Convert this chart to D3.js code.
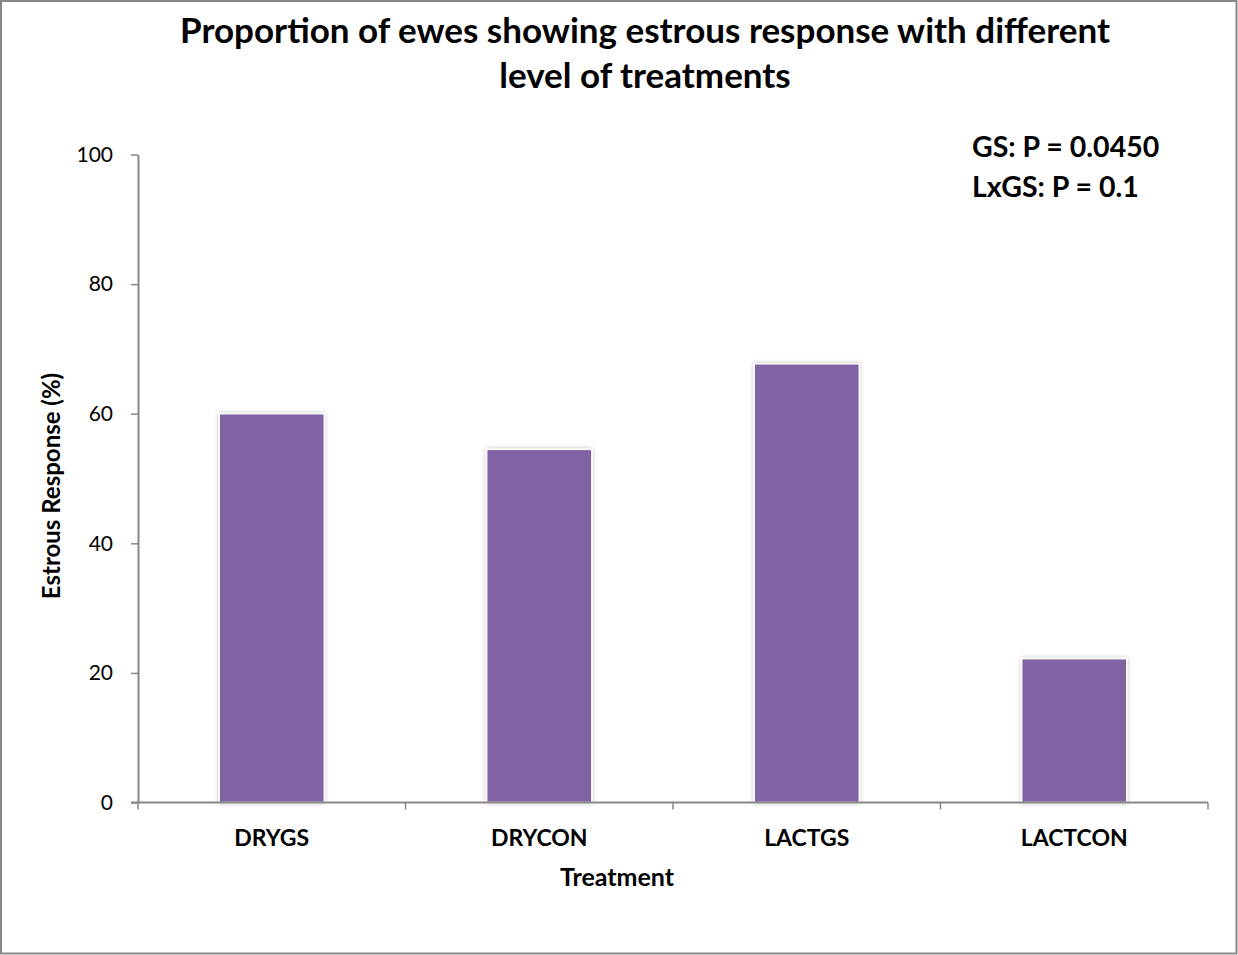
<!DOCTYPE html>
<html>
<head>
<meta charset="utf-8">
<script src="https://cdn.jsdelivr.net/npm/d3@7"></script>
<style>
  html, body { margin: 0; padding: 0; background: #fff; }
  svg { display: block; }
  text { font-family: Lato, "Open Sans", "DejaVu Sans", sans-serif; fill: #000; }
</style>
</head>
<body>
<svg id="chart" width="1238" height="955"></svg>
<script>
// Estrous response (%) by treatment group
const categories = ["DRYGS", "DRYCON", "LACTGS", "LACTCON"];
const responsePct = [60, 54.5, 67.7, 22.2];
const yTicks = [0, 20, 40, 60, 80, 100];
const titleLines = ["Proportion of ewes showing estrous response with different", "level of treatments"];
const statNotes = ["GS: P = 0.0450", "LxGS: P = 0.1"];

const svg = d3.select("#chart");
const W = 1238, H = 955;
const plotLeft = 138, plotRight = 1208;
const plotTop = 154.5, plotBottom = 802.5;
const axisGrey = "#878787";

// outer frame
svg.append("rect")
  .attr("x", 1).attr("y", 1)
  .attr("width", W - 2.5).attr("height", H - 2.5)
  .attr("fill", "#fff").attr("stroke", axisGrey).attr("stroke-width", 2);

// soft shadow around bars
const defs = svg.append("defs");
const f = defs.append("filter").attr("id", "glow")
  .attr("x", "-10%").attr("y", "-10%").attr("width", "120%").attr("height", "120%");
f.append("feDropShadow").attr("dx", 0).attr("dy", 0).attr("stdDeviation", 2.2)
  .attr("flood-color", "#000").attr("flood-opacity", 0.28);

const x = d3.scaleBand().domain(categories).range([plotLeft, plotRight])
  .paddingInner(0.607).paddingOuter(0.3035);
const y = d3.scaleLinear().domain([0, 100]).range([plotBottom, plotTop]);

// bars
svg.append("g").selectAll("rect").data(categories).join("rect")
  .attr("x", d => x(d))
  .attr("y", (d, i) => y(responsePct[i]))
  .attr("width", x.bandwidth())
  .attr("height", (d, i) => plotBottom - y(responsePct[i]))
  .attr("fill", "#8064a2")
  .attr("stroke", "#fff").attr("stroke-width", 1.5)
  .attr("filter", "url(#glow)");

// y axis
const yAxis = svg.append("g").attr("transform", `translate(${plotLeft},0)`)
  .call(d3.axisLeft(y).tickValues(yTicks).tickSize(7).tickPadding(18).tickSizeOuter(0));
yAxis.select(".domain").attr("stroke", axisGrey).attr("stroke-width", 2);
yAxis.selectAll(".tick line").attr("stroke", axisGrey).attr("stroke-width", 1.5);
yAxis.selectAll(".tick text").style("font-size", "21px").attr("fill", "#000")
  .style("font-family", "Lato, 'Open Sans', sans-serif");

// x axis with boundary ticks between groups
const xAxisG = svg.append("g").attr("transform", `translate(0,${plotBottom})`);
xAxisG.append("line").attr("x1", plotLeft - 7).attr("x2", plotRight)
  .attr("stroke", axisGrey).attr("stroke-width", 2);
const step = x.step();
const bounds = d3.range(categories.length + 1).map(i => plotLeft + i * step);
xAxisG.selectAll("line.b").data(bounds).join("line").attr("class", "b")
  .attr("x1", d => d).attr("x2", d => d).attr("y1", 0).attr("y2", 7)
  .attr("stroke", axisGrey).attr("stroke-width", 1.5);
xAxisG.selectAll("text").data(categories).join("text")
  .attr("x", d => x(d) + x.bandwidth() / 2).attr("y", 43)
  .attr("text-anchor", "middle")
  .style("font-size", "23px").style("font-weight", "bold")
  .text(d => d);

// axis titles
svg.append("text").attr("x", 617).attr("y", 886)
  .attr("text-anchor", "middle").style("font-size", "25px").style("font-weight", "bold")
  .text("Treatment");
svg.append("text").attr("transform", `translate(60,486) rotate(-90)`)
  .attr("text-anchor", "middle").style("font-size", "24px").style("font-weight", "bold")
  .text("Estrous Response (%)");

// title
svg.append("g").selectAll("text").data(titleLines).join("text")
  .attr("x", 645).attr("y", (d, i) => 43 + i * 45)
  .attr("text-anchor", "middle").style("font-size", "35px").style("font-weight", "bold")
  .text(d => d);

// significance notes
svg.append("g").selectAll("text").data(statNotes).join("text")
  .attr("x", 972).attr("y", (d, i) => 157 + i * 40)
  .style("font-size", "28.5px").style("font-weight", "bold")
  .text(d => d);
</script>
</body>
</html>
